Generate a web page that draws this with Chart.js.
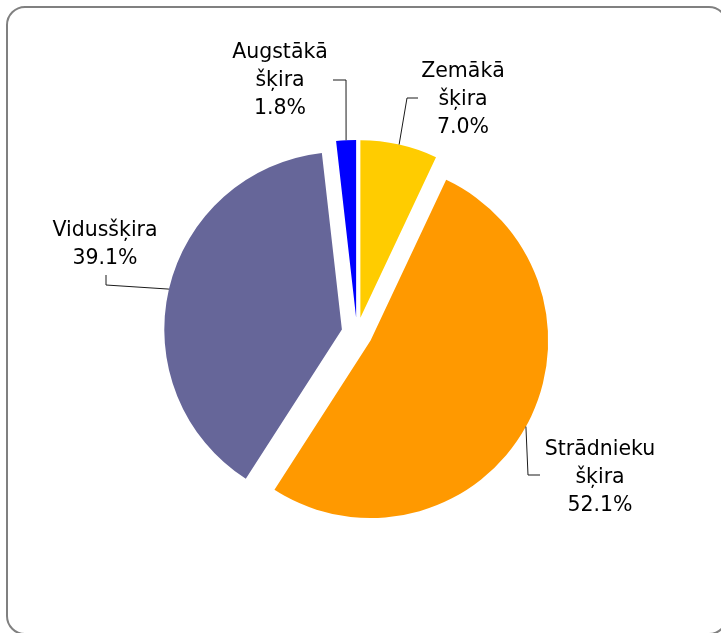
<!DOCTYPE html>
<html>
<head>
<meta charset="utf-8">
<script src="https://cdn.jsdelivr.net/npm/chart.js@4.4.1/dist/chart.umd.min.js"></script>
<style>
  html, body { margin: 0; padding: 0; background: #fff; }
  #wrap { width: 721px; height: 633px; overflow: hidden; }
</style>
</head>
<body>
<div id="wrap"><canvas id="pie" width="721" height="633"></canvas></div>
<script>
// Data
const categories = ['Zemākā\nšķira', 'Strādnieku\nšķira', 'Vidusšķira', 'Augstākā\nšķira'];
const shares = [7.0, 52.1, 39.1, 1.8];
const sliceColors = ['#FFCC00', '#FF9900', '#666699', '#0000FF'];

// Label placement: text centre x, first baseline y, elbow point, leader end
const labelSpots = [
    { x: 463, y: 77, elbow: [407, 98], end: [418, 98] },
    { x: 600, y: 455, elbow: [528, 475], end: [540, 475] },
    { x: 105, y: 236, elbow: [106, 285], end: [106, 275] },
    { x: 280, y: 58, elbow: [346, 80], end: [333, 80] }
];

// Rounded frame around the chart
const framePlugin = {
    id: 'frame',
    beforeDraw(chart) {
        const ctx = chart.ctx;
        ctx.save();
        ctx.strokeStyle = '#808080';
        ctx.lineWidth = 2;
        ctx.beginPath();
        ctx.roundRect(7, 7, 720, 627, 18);
        ctx.stroke();
        ctx.restore();
    }
};

// Pull every slice out from the centre (same radius for all slices,
// unlike the built-in offset which also grows the arc)
const explodePlugin = {
    id: 'explode',
    afterDatasetUpdate(chart, args, opts) {
        const meta = chart.getDatasetMeta(args.index);
        meta.data.forEach(arc => {
            if (arc._exploded) return;
            arc._exploded = true;
            const baseDraw = arc.draw;
            arc.draw = function(ctx, area) {
                const mid = (this.startAngle + this.endAngle) / 2;
                ctx.save();
                ctx.translate(Math.cos(mid) * opts.distance, Math.sin(mid) * opts.distance);
                baseDraw.call(this, ctx, area);
                ctx.restore();
            };
        });
    }
};

// Outside labels with leader lines
const labelPlugin = {
    id: 'outsideLabels',
    afterDatasetsDraw(chart) {
        const ctx = chart.ctx;
        const meta = chart.getDatasetMeta(0);
        const dist = chart.options.plugins.explode.distance;
        ctx.save();
        meta.data.forEach((arc, i) => {
            const p = arc.getProps(['x', 'y', 'startAngle', 'endAngle', 'outerRadius']);
            const mid = (p.startAngle + p.endAngle) / 2;
            const ax = p.x + Math.cos(mid) * (p.outerRadius + dist);
            const ay = p.y + Math.sin(mid) * (p.outerRadius + dist);
            const spot = labelSpots[i];

            // leader line
            ctx.strokeStyle = '#1a1a1a';
            ctx.lineWidth = 1;
            ctx.beginPath();
            ctx.moveTo(ax, ay);
            ctx.lineTo(spot.elbow[0], spot.elbow[1]);
            ctx.lineTo(spot.end[0], spot.end[1]);
            ctx.stroke();

            // text
            const lines = categories[i].split('\n');
            lines.push(shares[i].toFixed(1) + '%');
            ctx.fillStyle = '#000';
            ctx.font = '20.5px "DejaVu Sans", Verdana, sans-serif';
            ctx.textAlign = 'center';
            ctx.textBaseline = 'alphabetic';
            lines.forEach((t, k) => {
                ctx.fillText(t, spot.x, spot.y + k * 28);
            });
        });
        ctx.restore();
    }
};

new Chart(document.getElementById('pie'), {
    type: 'pie',
    data: {
        labels: categories,
        datasets: [{
            data: shares,
            backgroundColor: sliceColors,
            borderWidth: 0
        }]
    },
    options: {
        responsive: false,
        animation: false,
        radius: 177.6,
        layout: {
            padding: { left: 0, right: 7, top: 33, bottom: 0 }
        },
        plugins: {
            legend: { display: false },
            tooltip: { enabled: false },
            explode: { distance: 15.5 }
        }
    },
    plugins: [framePlugin, explodePlugin, labelPlugin]
});
</script>
</body>
</html>
